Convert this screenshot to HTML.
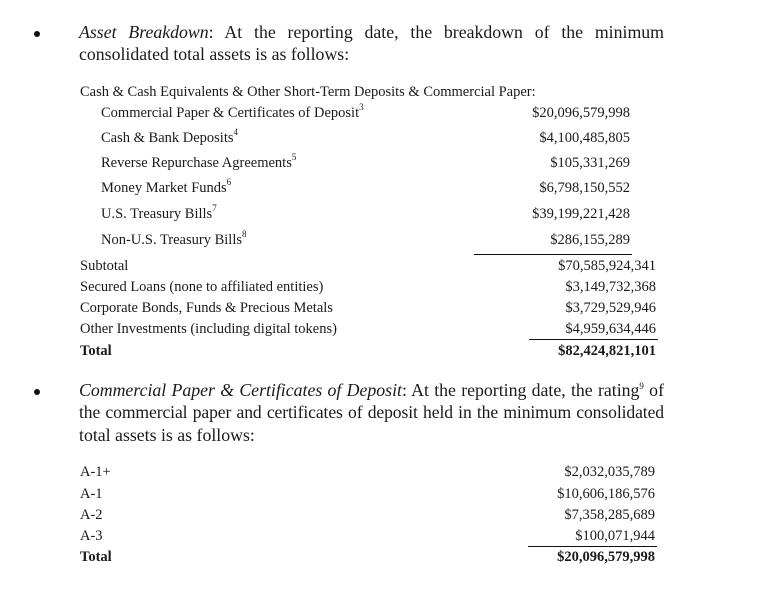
<!DOCTYPE html>
<html><head><meta charset="utf-8"><style>
html,body{margin:0;padding:0;background:#fff;width:761px;height:593px;overflow:hidden}
body{position:relative;font-family:"Liberation Serif",serif;color:#1a1a1a}
.t{position:absolute;white-space:nowrap;line-height:20px;font-size:14.5px}
.h{position:absolute;white-space:nowrap;line-height:22px;font-size:17.8px}
.r{text-align:right}
.b{font-weight:bold}
sup{font-size:9px;line-height:0;vertical-align:7px}
.ln{position:absolute;height:1px;background:#111}
.dot{position:absolute;width:6px;height:6px;border-radius:50%;background:#111}
</style></head><body>
<div class="dot" style="left:34px;top:31px"></div>
<div class="h" style="left:79px;top:21px;width:585px;text-align:justify;text-align-last:justify"><i>Asset Breakdown</i>: At the reporting date, the breakdown of the minimum</div>
<div class="h" style="left:79px;top:43px">consolidated total assets is as follows:</div>

<div class="t" style="left:80px;top:82px">Cash &amp; Cash Equivalents &amp; Other Short-Term Deposits &amp; Commercial Paper:</div>
<div class="t" style="left:101px;top:103px">Commercial Paper &amp; Certificates of Deposit<sup>3</sup></div>
<div class="t" style="left:101px;top:128px">Cash &amp; Bank Deposits<sup>4</sup></div>
<div class="t" style="left:101px;top:153px">Reverse Repurchase Agreements<sup>5</sup></div>
<div class="t" style="left:101px;top:178px">Money Market Funds<sup>6</sup></div>
<div class="t" style="left:101px;top:204px">U.S. Treasury Bills<sup>7</sup></div>
<div class="t" style="left:101px;top:230px">Non-U.S. Treasury Bills<sup>8</sup></div>
<div class="t" style="left:80px;top:256px">Subtotal</div>
<div class="t" style="left:80px;top:277px">Secured Loans (none to affiliated entities)</div>
<div class="t" style="left:80px;top:298px">Corporate Bonds, Funds &amp; Precious Metals</div>
<div class="t" style="left:80px;top:319px">Other Investments (including digital tokens)</div>
<div class="t b" style="left:80px;top:341px">Total</div>

<div class="t r" style="right:131px;top:103px">$20,096,579,998</div>
<div class="t r" style="right:131px;top:128px">$4,100,485,805</div>
<div class="t r" style="right:131px;top:153px">$105,331,269</div>
<div class="t r" style="right:131px;top:178px">$6,798,150,552</div>
<div class="t r" style="right:131px;top:204px">$39,199,221,428</div>
<div class="t r" style="right:131px;top:230px">$286,155,289</div>
<div class="ln" style="left:474px;width:158px;top:254px"></div>
<div class="t r" style="right:105px;top:256px">$70,585,924,341</div>
<div class="t r" style="right:105px;top:277px">$3,149,732,368</div>
<div class="t r" style="right:105px;top:298px">$3,729,529,946</div>
<div class="t r" style="right:105px;top:319px">$4,959,634,446</div>
<div class="ln" style="left:529px;width:129px;top:339px"></div>
<div class="t r b" style="right:105px;top:341px">$82,424,821,101</div>

<div class="dot" style="left:34px;top:389px"></div>
<div class="h" style="left:79px;top:379px;width:585px;text-align:justify;text-align-last:justify"><i>Commercial Paper &amp; Certificates of Deposit</i>: At the reporting date, the rating<sup>9</sup> of</div>
<div class="h" style="left:79px;top:401px;width:585px;text-align:justify;text-align-last:justify;font-size:17.6px;letter-spacing:-0.1px">the commercial paper and certificates of deposit held in the minimum consolidated</div>
<div class="h" style="left:79px;top:424px">total assets is as follows:</div>

<div class="t" style="left:80px;top:462px">A-1+</div>
<div class="t" style="left:80px;top:484px">A-1</div>
<div class="t" style="left:80px;top:505px">A-2</div>
<div class="t" style="left:80px;top:526px">A-3</div>
<div class="t b" style="left:80px;top:547px">Total</div>
<div class="t r" style="right:106px;top:462px">$2,032,035,789</div>
<div class="t r" style="right:106px;top:484px">$10,606,186,576</div>
<div class="t r" style="right:106px;top:505px">$7,358,285,689</div>
<div class="t r" style="right:106px;top:526px">$100,071,944</div>
<div class="ln" style="left:528px;width:129px;top:546px"></div>
<div class="t r b" style="right:106px;top:547px">$20,096,579,998</div>
</body></html>
